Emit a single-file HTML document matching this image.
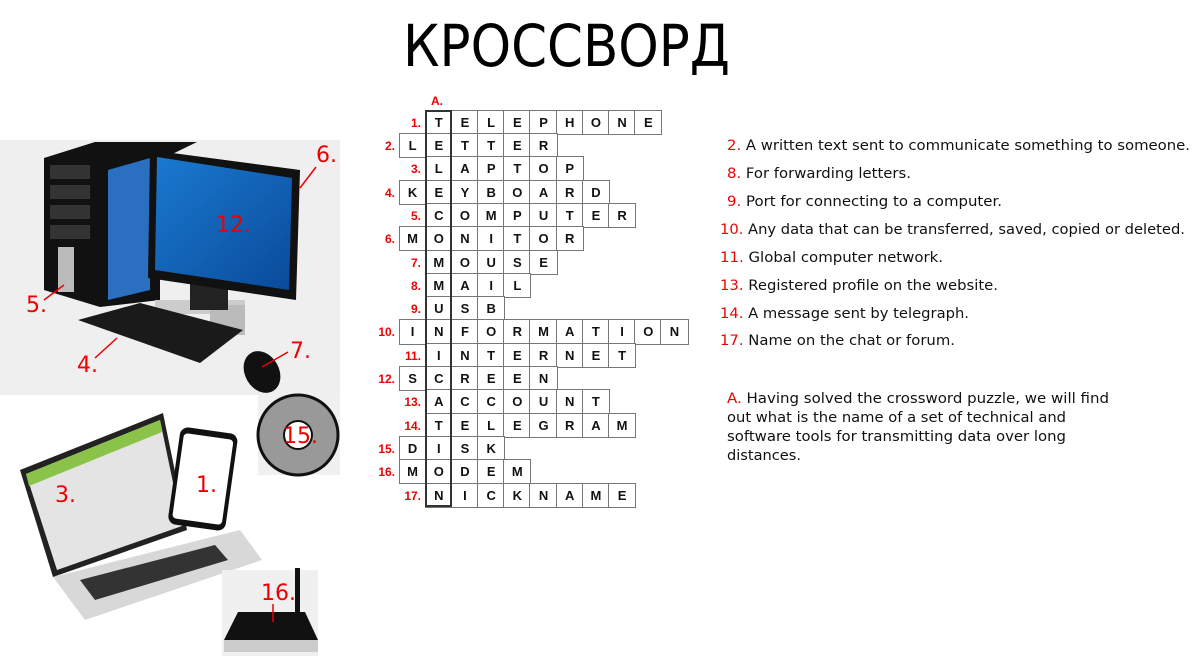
<!DOCTYPE html>
<html><head><meta charset="utf-8"><style>
body{margin:0;width:1200px;height:656px;overflow:hidden;background:#fff;position:relative;font-family:"Liberation Sans",sans-serif}
.r{position:absolute;display:flex;height:23.3px}
.r b{display:block;width:26.2px;height:23.3px;outline:1px solid #777;outline-offset:-0.5px;background:#fff;font:bold 13px "Liberation Sans",sans-serif;text-align:center;line-height:24px;color:#111}
.n{position:absolute;width:40px;text-align:right;color:#e00;font:bold 12px "Liberation Sans",sans-serif;line-height:24px}
#colA{position:absolute;left:425px;top:110px;width:27px;height:397px;border:2px solid #333;box-sizing:border-box;z-index:5}
svg{position:absolute;left:0;top:0}
</style></head><body>
<svg width="1200" height="656" viewBox="0 0 1200 656">
<defs><linearGradient id="sc" x1="0" y1="0" x2="1" y2="1"><stop offset="0" stop-color="#1a7ad0"/><stop offset="1" stop-color="#0a4a9a"/></linearGradient></defs>
<text x="403" y="66" font-family="DejaVu Sans, sans-serif" font-size="58" textLength="327" lengthAdjust="spacingAndGlyphs">КРОССВОРД</text>
<!-- desktop -->
<rect x="0" y="140" width="340" height="255" fill="#efefef"/>
<polygon points="44,158 95,142 197,142 160,160 160,300 100,307 44,290" fill="#111"/>
<rect x="50" y="165" width="40" height="14" fill="#333"/><rect x="50" y="185" width="40" height="14" fill="#333"/><rect x="50" y="205" width="40" height="14" fill="#333"/><rect x="50" y="225" width="40" height="14" fill="#333"/>
<rect x="58" y="247" width="16" height="45" fill="#bbb"/>
<polygon points="108,170 150,158 150,290 108,300" fill="#2a6fc0"/>
<rect x="155" y="300" width="90" height="14" fill="#ccc"/><rect x="210" y="305" width="35" height="30" fill="#bbb"/>
<rect x="190" y="280" width="38" height="30" fill="#222"/>
<polygon points="150,150 300,170 296,300 148,278" fill="#111"/>
<polygon points="157,157 292,178 289,290 155,270" fill="url(#sc)"/>
<polygon points="78,320 140,303 243,330 200,363" fill="#1a1a1a"/>
<ellipse cx="262" cy="372" rx="17" ry="22" fill="#111" transform="rotate(-30 262 372)"/>
<!-- disc -->
<rect x="258" y="393" width="82" height="82" fill="#f0f0f0"/>
<circle cx="298" cy="435" r="40" fill="#999" stroke="#111" stroke-width="3"/>
<circle cx="298" cy="435" r="14" fill="#fff" stroke="#111" stroke-width="2"/>
<!-- laptop -->
<polygon points="53,577 240,530 262,560 85,620" fill="#d8d8d8"/>
<polygon points="80,580 215,545 228,560 95,600" fill="#333"/>
<polygon points="20,470 163,413 187,530 53,577" fill="#222"/>
<polygon points="26,474 160,420 182,526 57,570" fill="#e4e4e4"/>
<polygon points="26,474 160,420 162,432 29,486" fill="#8bc34a"/>
<rect x="174" y="430" width="58" height="98" rx="8" fill="#111" transform="rotate(8 203 478)"/>
<rect x="178" y="436" width="50" height="86" rx="4" fill="#fff" transform="rotate(8 203 478)"/>
<!-- router -->
<rect x="222" y="570" width="96" height="86" fill="#f0f0f0"/>
<rect x="295" y="568" width="5" height="45" fill="#111"/>
<polygon points="224,640 238,612 305,612 318,640" fill="#111"/>
<rect x="224" y="640" width="94" height="12" fill="#ccc"/>
<!-- labels -->
<g fill="#e00" font-family="DejaVu Sans, sans-serif" font-size="22">
<text x="316" y="162">6.</text><text x="216" y="232">12.</text><text x="26" y="312">5.</text><text x="77" y="372">4.</text><text x="290" y="358">7.</text><text x="283" y="443">15.</text><text x="55" y="502">3.</text><text x="196" y="492">1.</text><text x="261" y="600">16.</text>
</g>
<g stroke="#e00" stroke-width="1.5">
<line x1="316" y1="167" x2="300" y2="188"/><line x1="44" y1="300" x2="64" y2="285"/><line x1="95" y1="358" x2="117" y2="338"/><line x1="288" y1="352" x2="262" y2="367"/><line x1="273" y1="604" x2="273" y2="622"/>
</g>
<!-- right text -->
<g font-family="DejaVu Sans, sans-serif" font-size="14" fill="#111">
<text x="727" y="150" textLength="463" lengthAdjust="spacingAndGlyphs"><tspan fill="#e00">2.</tspan> A written text sent to communicate something to someone.</text>
<text x="727" y="178" textLength="184" lengthAdjust="spacingAndGlyphs"><tspan fill="#e00">8.</tspan> For forwarding letters.</text>
<text x="727" y="206" textLength="275" lengthAdjust="spacingAndGlyphs"><tspan fill="#e00">9.</tspan> Port for connecting to a computer.</text>
<text x="720" y="234" textLength="465" lengthAdjust="spacingAndGlyphs"><tspan fill="#e00">10.</tspan> Any data that can be transferred, saved, copied or deleted.</text>
<text x="720" y="262" textLength="223" lengthAdjust="spacingAndGlyphs"><tspan fill="#e00">11.</tspan> Global computer network.</text>
<text x="720" y="290" textLength="278" lengthAdjust="spacingAndGlyphs"><tspan fill="#e00">13.</tspan> Registered profile on the website.</text>
<text x="720" y="318" textLength="249" lengthAdjust="spacingAndGlyphs"><tspan fill="#e00">14.</tspan> A message sent by telegraph.</text>
<text x="720" y="345" textLength="235" lengthAdjust="spacingAndGlyphs"><tspan fill="#e00">17.</tspan> Name on the chat or forum.</text>
<text x="727" y="403" textLength="382" lengthAdjust="spacingAndGlyphs"><tspan fill="#e00">A.</tspan> Having solved the crossword puzzle, we will find</text>
<text x="727" y="422" textLength="339" lengthAdjust="spacingAndGlyphs">out what is the name of a set of technical and</text>
<text x="727" y="441" textLength="339" lengthAdjust="spacingAndGlyphs">software tools for transmitting data over long</text>
<text x="727" y="460" textLength="74" lengthAdjust="spacingAndGlyphs">distances.</text>
</g>
<text x="431" y="105" fill="#e00" font-family="Liberation Sans, sans-serif" font-weight="bold" font-size="12">A.</text>
</svg>

<div id="colA"></div>
<div class="n" style="left:381px;top:110.7px">1.</div><div class="r" style="left:425.7px;top:110.7px"><b>T</b><b>E</b><b>L</b><b>E</b><b>P</b><b>H</b><b>O</b><b>N</b><b>E</b></div>
<div class="n" style="left:355px;top:134px">2.</div><div class="r" style="left:399.5px;top:134px"><b>L</b><b>E</b><b>T</b><b>T</b><b>E</b><b>R</b></div>
<div class="n" style="left:381px;top:157.3px">3.</div><div class="r" style="left:425.7px;top:157.3px"><b>L</b><b>A</b><b>P</b><b>T</b><b>O</b><b>P</b></div>
<div class="n" style="left:355px;top:180.6px">4.</div><div class="r" style="left:399.5px;top:180.6px"><b>K</b><b>E</b><b>Y</b><b>B</b><b>O</b><b>A</b><b>R</b><b>D</b></div>
<div class="n" style="left:381px;top:203.9px">5.</div><div class="r" style="left:425.7px;top:203.9px"><b>C</b><b>O</b><b>M</b><b>P</b><b>U</b><b>T</b><b>E</b><b>R</b></div>
<div class="n" style="left:355px;top:227.2px">6.</div><div class="r" style="left:399.5px;top:227.2px"><b>M</b><b>O</b><b>N</b><b>I</b><b>T</b><b>O</b><b>R</b></div>
<div class="n" style="left:381px;top:250.5px">7.</div><div class="r" style="left:425.7px;top:250.5px"><b>M</b><b>O</b><b>U</b><b>S</b><b>E</b></div>
<div class="n" style="left:381px;top:273.8px">8.</div><div class="r" style="left:425.7px;top:273.8px"><b>M</b><b>A</b><b>I</b><b>L</b></div>
<div class="n" style="left:381px;top:297.1px">9.</div><div class="r" style="left:425.7px;top:297.1px"><b>U</b><b>S</b><b>B</b></div>
<div class="n" style="left:355px;top:320.4px">10.</div><div class="r" style="left:399.5px;top:320.4px"><b>I</b><b>N</b><b>F</b><b>O</b><b>R</b><b>M</b><b>A</b><b>T</b><b>I</b><b>O</b><b>N</b></div>
<div class="n" style="left:381px;top:343.7px">11.</div><div class="r" style="left:425.7px;top:343.7px"><b>I</b><b>N</b><b>T</b><b>E</b><b>R</b><b>N</b><b>E</b><b>T</b></div>
<div class="n" style="left:355px;top:367px">12.</div><div class="r" style="left:399.5px;top:367px"><b>S</b><b>C</b><b>R</b><b>E</b><b>E</b><b>N</b></div>
<div class="n" style="left:381px;top:390.3px">13.</div><div class="r" style="left:425.7px;top:390.3px"><b>A</b><b>C</b><b>C</b><b>O</b><b>U</b><b>N</b><b>T</b></div>
<div class="n" style="left:381px;top:413.6px">14.</div><div class="r" style="left:425.7px;top:413.6px"><b>T</b><b>E</b><b>L</b><b>E</b><b>G</b><b>R</b><b>A</b><b>M</b></div>
<div class="n" style="left:355px;top:436.9px">15.</div><div class="r" style="left:399.5px;top:436.9px"><b>D</b><b>I</b><b>S</b><b>K</b></div>
<div class="n" style="left:355px;top:460.2px">16.</div><div class="r" style="left:399.5px;top:460.2px"><b>M</b><b>O</b><b>D</b><b>E</b><b>M</b></div>
<div class="n" style="left:381px;top:483.5px">17.</div><div class="r" style="left:425.7px;top:483.5px"><b>N</b><b>I</b><b>C</b><b>K</b><b>N</b><b>A</b><b>M</b><b>E</b></div>
</body></html>
